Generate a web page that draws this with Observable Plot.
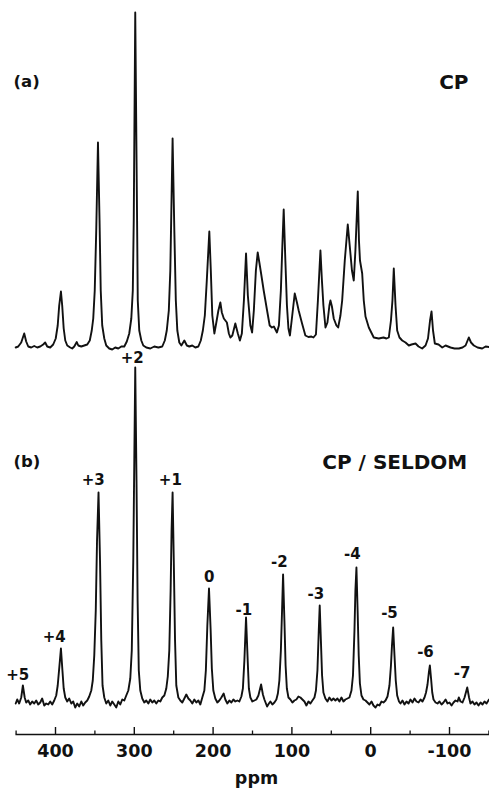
<!DOCTYPE html>
<html><head><meta charset="utf-8">
<script src="https://cdn.jsdelivr.net/npm/d3@7"></script>
<script src="https://cdn.jsdelivr.net/npm/@observablehq/plot@0.6"></script>
<style>
html,body{margin:0;padding:0;background:#fff;}
#chart svg{display:block;}
</style></head><body><div id="chart"></div>
<script>
// Spectrum (a) CP : [ppm, intensity above baseline]
const spectrumA = [[450.5,-1],[447.3,0],[443.5,4],[439.7,13],[437.2,5],[434.6,0],[430.8,-1],[427.0,0.5],[423.2,-1],[419.4,0],[415.6,2],[413.1,4],[410.5,0],[406.7,-1],[402.9,2],[399.7,8],[397.2,21],[395.3,41],[393.1,55],[391.5,41],[389.6,18],[387.6,6],[385.1,1],[381.3,-1],[378.8,-2],[376.2,0],[373.0,4.5],[371.1,1],[367.3,0],[363.5,1],[359.7,2],[356.5,6],[354.0,16],[352.1,28],[350.2,56],[348.3,116],[346.1,204],[344.1,126],[342.6,56],[340.7,21],[338.1,8],[335.6,1],[331.8,-2],[328.0,-3],[324.2,-1],[320.3,-2],[316.5,0],[312.7,0],[309.5,5],[306.4,13],[303.8,28],[301.9,56],[300.7,126],[298.8,334],[296.8,156],[295.6,46],[293.7,16],[291.1,6],[288.6,1],[284.8,-1],[279.7,-2],[274.6,0],[269.5,-1],[264.5,0],[261.3,6],[258.8,16],[256.2,36],[254.3,76],[251.4,208],[249.2,116],[247.3,46],[245.4,16],[242.9,4],[240.3,1],[236.5,6],[233.3,1],[230.2,0],[226.4,1],[222.6,-1],[218.7,0],[215.6,6],[213.0,16],[210.5,31],[208.0,66],[204.8,115],[202.9,76],[201.0,31],[198.4,13],[195.9,24],[193.3,36],[190.8,44],[188.9,34],[186.4,28],[182.5,24],[180.0,13],[178.1,9],[175.6,11],[171.8,23],[168.6,13],[166.0,6],[163.5,13],[160.9,46],[158.2,93],[155.9,51],[152.7,21],[150.5,14],[148.3,36],[145.7,76],[143.4,94],[141.3,84],[138.7,71],[135.8,56],[131.5,36],[128.2,21],[125.4,19],[122.9,20],[119.0,14],[116.5,21],[114.0,56],[112.1,101],[110.4,137],[108.3,86],[106.3,41],[104.4,18],[102.5,11],[100.0,28],[96.4,53],[93.6,44],[91.4,36],[87.1,23],[82.9,11],[79.0,9.5],[75.2,10],[72.7,9],[69.5,12],[67.0,46],[63.8,96],[61.9,66],[60.0,41],[57.4,19],[54.9,24],[52.4,41],[51.1,46],[49.2,40],[46.9,28],[43.5,21],[41.3,19],[38.4,31],[36.2,46],[32.9,86],[29.1,122],[26.3,98],[23.8,76],[21.5,66],[19.4,96],[16.4,155],[14.9,106],[13.6,86],[10.8,73],[8.8,46],[6.6,30],[2.4,19],[-3.9,9],[-10.2,8],[-16.2,9],[-20.0,8],[-23.0,9],[-25.7,26],[-27.6,46],[-29.3,78],[-31.5,41],[-33.6,16],[-36.5,9],[-40.0,6],[-44.2,4],[-48.4,1],[-51.8,2],[-56.9,3],[-60.7,0],[-65.3,-2],[-69.6,1],[-72.7,8],[-75.3,26],[-77.2,35],[-79.1,16],[-81.4,3],[-86.1,2],[-90.8,-1],[-95.0,1],[-101.3,-1],[-106.4,-2],[-111.9,-2],[-116.5,-1],[-120.4,1],[-124.5,9],[-127.3,4],[-130.9,1],[-135.6,-1],[-141.5,-2],[-145.8,0],[-150.2,-0.5]];

// Spectrum (b) CP/SELDOM : [ppm, intensity above baseline]
const spectrumB = [[450.5,-1],[448.6,3],[446.1,-1],[443.5,5],[441.4,17],[439.1,5],[437.2,0],[434.6,2],[432.1,-2],[429.6,1],[427.0,-1],[424.5,2],[421.9,-2],[419.4,0],[416.9,4],[414.3,-3],[411.8,-1],[409.2,-2],[406.7,1],[404.2,-2],[401.6,2],[399.1,7],[397.2,17],[395.3,34],[393.1,54],[391.2,32],[389.6,14],[387.6,5],[385.1,1],[382.6,4],[380.0,-1],[377.5,1],[375.0,-5],[372.4,-1],[369.9,-4],[367.3,1],[364.8,-3],[362.3,0],[359.7,2],[357.2,6],[354.6,12],[352.7,22],[350.8,47],[348.9,92],[347.3,162],[345.4,210],[343.5,142],[341.9,62],[340.3,17],[338.1,5],[335.6,-1],[333.0,2],[330.5,-3],[328.0,1],[325.4,-2],[322.9,-5],[320.3,1],[317.8,-2],[315.3,3],[312.7,2],[310.2,7],[307.6,12],[305.1,24],[303.2,52],[301.3,142],[300.0,242],[298.8,335],[297.2,222],[295.8,102],[294.3,32],[292.4,12],[289.9,4],[287.3,0],[284.8,2],[282.2,-1],[279.7,3],[277.2,0],[274.6,2],[272.1,-1],[269.5,2],[267.0,1],[264.5,5],[261.9,7],[259.4,14],[257.5,26],[255.6,52],[253.9,112],[252.7,172],[251.4,210],[249.9,142],[248.3,62],[246.7,17],[244.1,5],[241.6,2],[239.1,0],[236.5,4],[234.0,8],[231.4,4],[228.9,2],[226.4,-1],[223.8,3],[221.3,0],[218.7,2],[216.2,-2],[213.7,5],[211.1,12],[209.2,32],[207.3,77],[205.2,114],[203.1,72],[201.6,34],[199.7,12],[197.2,4],[194.6,0],[192.1,2],[189.5,5],[186.6,9],[184.5,3],[181.9,-1],[179.4,2],[176.8,0],[174.3,3],[171.8,1],[169.2,2],[166.7,1],[164.1,6],[162.2,14],[160.3,42],[158.2,85],[156.1,42],[154.6,14],[152.7,5],[150.2,1],[147.6,2],[145.1,3],[142.5,7],[139.1,18],[136.8,8],[134.9,3],[131.5,-4],[129.2,-1],[127.3,1],[124.8,-2],[122.2,0],[119.7,3],[117.8,9],[115.9,22],[114.0,52],[112.5,92],[111.2,128],[109.5,82],[108.0,37],[106.4,14],[104.4,5],[101.9,3],[99.4,0],[96.8,2],[94.3,3],[91.7,6],[89.2,5],[86.7,3],[84.1,1],[81.6,-3],[79.0,1],[76.5,-1],[74.0,2],[71.4,5],[69.5,12],[67.6,32],[65.9,72],[64.7,97],[63.2,62],[61.7,27],[60.0,10],[57.5,4],[54.9,1],[52.4,5],[49.8,2],[47.3,4],[44.8,2],[42.2,4],[39.7,1],[37.1,5],[34.6,1],[32.1,3],[29.5,4],[27.0,5],[24.4,12],[22.5,27],[20.6,72],[19.4,112],[18.1,135],[16.6,92],[15.2,47],[13.7,19],[11.7,7],[9.2,3],[6.6,2],[4.1,0],[1.6,-2],[-1.0,1],[-3.5,-3],[-6.1,-5],[-8.6,-2],[-11.1,-3],[-13.7,1],[-16.2,0],[-18.8,2],[-21.3,6],[-23.8,17],[-25.7,37],[-27.0,57],[-28.5,75],[-30.2,47],[-31.8,22],[-33.6,7],[-35.9,1],[-37.8,-1],[-40.3,2],[-42.9,-2],[-45.4,1],[-48.0,-1],[-50.5,3],[-53.0,0],[-55.6,4],[-58.1,1],[-60.7,0],[-63.2,3],[-65.7,1],[-68.3,5],[-70.2,10],[-72.1,18],[-73.8,30],[-75.1,37],[-76.6,24],[-78.1,10],[-79.7,3],[-82.3,0],[-84.8,-1],[-87.3,1],[-89.9,-2],[-92.4,0],[-95.0,3],[-97.5,-1],[-100.0,0],[-102.6,-3],[-105.1,0],[-107.6,2],[-110.2,1],[-111.8,5],[-114.0,1],[-116.5,0],[-119.1,5],[-122.5,15],[-124.8,5],[-126.6,-1],[-129.2,1],[-131.7,-2],[-134.3,0],[-136.8,-3],[-139.4,0],[-141.9,-2],[-144.4,1],[-147.0,-1],[-150.2,3]];

// Sideband order labels for (b)
const peakLabels = ["+5","+4","+3","+2","+1","0","-1","-2","-3","-4","-5","-6","-7"];
const labelPpm = [448.0, 401.6, 352.1, 302.6, 254.3, 204.8, 161.0, 115.9, 69.5, 23.2, -23.8, -69.5, -115.9];
const labelHeight = [27, 65, 222, 344, 222, 125, 92, 140, 108, 148, 89, 50, 29];

// Axis
const majorTicks = [400, 300, 200, 100, 0, -100];
const tickLabels = ["400", "300", "200", "100", "0", "-100"];
const minorTicks = [450, 350, 250, 150, 50, -50, -150];
const axisTitle = "ppm";
const panelTitles = ["(a)", "(b)"];
const methodTitles = ["CP", "CP / SELDOM"];

const toRows = arr => arr.map(([ppm, v]) => ({ppm, v}));
const rowsA = toRows(spectrumA);
const rowsB = toRows(spectrumB);
const labels = peakLabels.map((t, i) => ({t, ppm: labelPpm[i], v: labelHeight[i]}));

const W = 489, H = 789, mB = 55;
const frameH = H - mB;
const ink = "#111";
const chart = Plot.plot({
  width: W,
  height: H,
  marginLeft: 15.6,
  marginRight: 0.6,
  marginTop: 0,
  marginBottom: mB,
  style: {fontFamily: "'DejaVu Sans', sans-serif", fontWeight: "bold", background: "#fff", color: ink, overflow: "visible"},
  x: {domain: [450, -150], label: null},
  y: {domain: [-32, 702], axis: null},
  marks: [
    Plot.frame({anchor: "bottom", stroke: ink, strokeWidth: 1.4}),
    Plot.tickX(minorTicks, {x: d => d, insetTop: frameH - 3.5, stroke: ink, strokeWidth: 1.3}),
    Plot.tickX(majorTicks, {x: d => d, insetTop: frameH - 7, stroke: ink, strokeWidth: 1.4}),
    Plot.axisX(majorTicks, {tickSize: 0, tickPadding: 10, tickFormat: d => tickLabels[majorTicks.indexOf(d)], fontSize: 17.5, fontWeight: "bold", fill: ink}),
    Plot.text([axisTitle], {frameAnchor: "bottom", dx: 4, dy: 49.5, lineAnchor: "bottom", fontSize: 17.5, fontWeight: "bold", fill: ink}),
    Plot.line(rowsA, {x: "ppm", y: "v", dy: -356, stroke: ink, strokeWidth: 1.9, strokeLinejoin: "round"}),
    Plot.line(rowsB, {x: "ppm", y: "v", stroke: ink, strokeWidth: 1.9, strokeLinejoin: "round"}),
    Plot.text(labels, {x: "ppm", y: "v", text: "t", fontSize: 15, fontWeight: "bold", fill: ink, lineAnchor: "middle"}),
    Plot.text([panelTitles[0]], {frameAnchor: "top-left", dx: -2.6, dy: 81.7, textAnchor: "start", lineAnchor: "middle", fontSize: 16.5, fill: ink}),
    Plot.text([methodTitles[0]], {frameAnchor: "top-right", dx: -20.4, dy: 81.7, textAnchor: "end", lineAnchor: "middle", fontSize: 20, fill: ink}),
    Plot.text([panelTitles[1]], {frameAnchor: "top-left", dx: -2.6, dy: 461.7, textAnchor: "start", lineAnchor: "middle", fontSize: 16.5, fill: ink}),
    Plot.text([methodTitles[1]], {frameAnchor: "top-right", dx: -21.7, dy: 461.7, textAnchor: "end", lineAnchor: "middle", fontSize: 20, fill: ink})
  ]
});
document.getElementById("chart").appendChild(chart);
</script>
</body></html>
